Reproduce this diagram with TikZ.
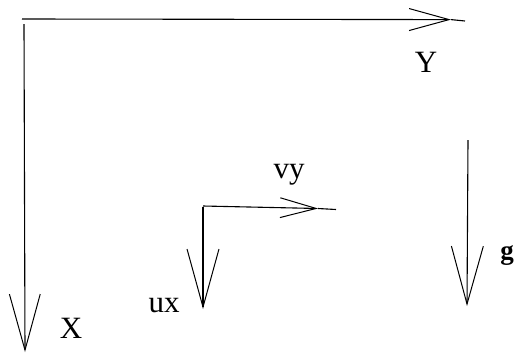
\documentclass[tikz,border=0pt]{standalone}
\usepackage{fontspec}
\setmainfont{Liberation Serif}
\usetikzlibrary{arrows.meta}
\begin{document}
\begin{tikzpicture}[x=1pt,y=-1pt,
  vec/.style={line width=1.1pt,-{Straight Barb[length=#1,width=0.55*#1,line width=1pt]}},
  vec/.default=40pt,
  tail/.style={line width=1.1pt},
  lbl/.style={anchor=base,inner sep=0pt,font=\fontsize{31}{36}\selectfont}]
\useasboundingbox (0,0) rectangle (514,354);
% coordinates
\coordinate (o1) at (24,24);
\coordinate (xt) at (25,352);
\coordinate (o2) at (22,19);
\coordinate (yt) at (451,19.6);
\coordinate (ye) at (465,21);
\coordinate (c) at (203,207);
\coordinate (c2) at (203,206);
\coordinate (vyt) at (318,208.5);
\coordinate (vye) at (336,209.5);
\coordinate (uxt) at (203,309);
\coordinate (gs) at (468,140);
\coordinate (gt) at (467,306);
% arrows
\draw[vec=56pt] (o1) -- (xt);
\draw[vec=40pt] (o2) -- (yt);
\draw[tail] (yt) -- (ye);
\draw[vec=36pt] (c2) -- (vyt);
\draw[tail] (vyt) -- (vye);
\draw[vec=58pt] (c) -- (uxt);
\draw[vec=58pt] (gs) -- (gt);
% labels
\node[lbl] (X) at (71,338) {X};
\node[lbl] (Y) at (426,72) {Y};
\node[lbl] (vy) at (289,178) {vy};
\node[lbl] (ux) at (164,312) {ux};
\node[lbl,font=\fontsize{27}{32}\selectfont\bfseries] (g) at (507,259) {g};
\end{tikzpicture}
\end{document}
